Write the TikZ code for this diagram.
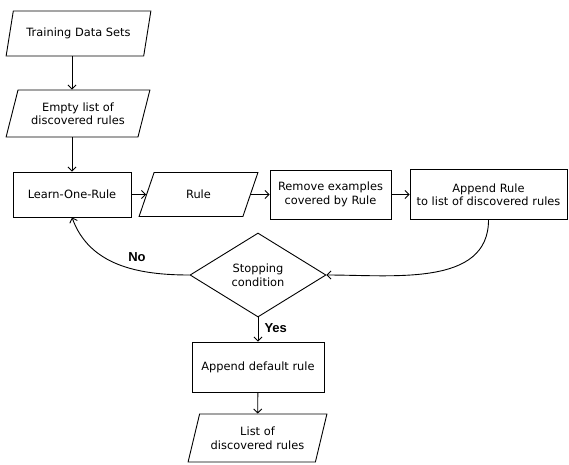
\documentclass[tikz,border=0pt]{standalone}
\usepackage{fontspec}
\setmainfont{DejaVu Sans}
\newfontfamily\answerfont{Liberation Sans}
\usetikzlibrary{arrows.meta,shapes.geometric}

\begin{document}
\begin{tikzpicture}[x=1pt,y=-1pt,
  box/.style={draw,line width=0.9pt,align=center,font=\fontsize{11.4}{13.5}\selectfont},
  data/.style={box,trapezium,trapezium left angle=71,trapezium right angle=109,trapezium stretches=true},
  arr/.style={-{Straight Barb[length=4pt,width=8pt]},line width=0.9pt},
  answer/.style={font=\answerfont\bfseries\fontsize{13}{15}\selectfont}]
  \useasboundingbox (0,0) rectangle (569,464);
  % Inputs
  \node[data,minimum width=145pt,minimum height=45pt] (train) at (78.5,33.5) {Training Data Sets};
  \node[data,minimum width=144pt,minimum height=47pt] (empty) at (78,113.5) {Empty list of\\discovered rules};
  % Main loop
  \node[box,minimum width=118pt,minimum height=45pt] (learn) at (72,194.5) {Learn-One-Rule};
  \draw[arr] (train.south -| learn.north) -- (empty.north -| learn.north);
  \draw[arr] (empty.south -| learn.north) -- (learn.north);
  \node[data,minimum width=119pt,minimum height=44pt] (rule) at (198.5,194.5) {Rule};
  \draw[arr] (learn) -- (rule);
  \node[box,minimum width=121pt,minimum height=49pt] (remove) at (330.5,194.5) {Remove examples\\covered by Rule};
  \draw[arr] (rule) -- (remove);
  \node[box,minimum width=157pt,minimum height=50pt] (app) at (488.5,194.5) {Append Rule\\to list of discovered rules};
  \draw[arr] (remove) -- (app);
  % Decision
  \node[box,diamond,aspect=1.62,inner sep=1pt,minimum width=136pt,minimum height=84pt] (stop) at (258,275) {Stopping\\condition};
  \draw[arr] (app.south) to[out=-90,in=0] (stop.east);
  \draw[arr] (stop.west) to[out=180,in=-70] (learn.south);
  \node[answer] (no) at (137,257) {No};
  % Output
  \node[box,minimum width=132pt,minimum height=50pt] (dflt) at (258,367) {Append default rule};
  \draw[arr] (stop.south) -- (dflt.north);
  \node[answer,anchor=west] (yes) at (261,328) {Yes};
  \node[data,minimum width=139pt,minimum height=48pt] (out) at (257.5,438) {List of\\discovered rules};
  \draw[arr] (dflt) -- (out);
\end{tikzpicture}
\end{document}
